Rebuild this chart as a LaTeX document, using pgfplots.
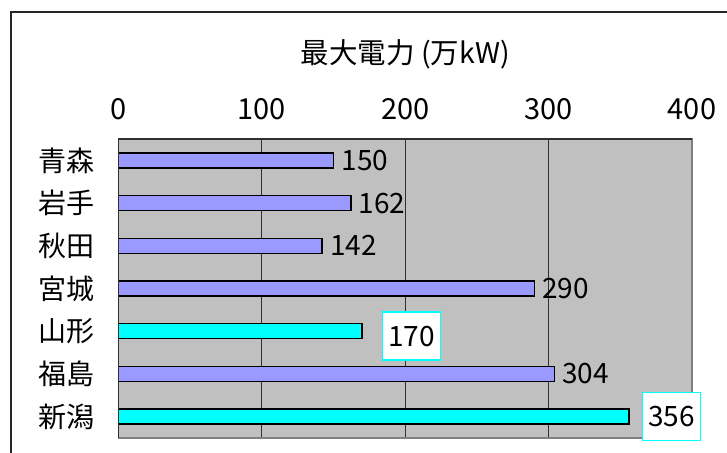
\documentclass[border=0pt]{standalone}
\usepackage{pgfplots}
\pgfplotsset{compat=1.18}
\usepackage{fontspec}
\setmainfont{Noto Sans CJK JP}
\definecolor{peri}{HTML}{9999FF}
\definecolor{cyanbar}{HTML}{00FFFF}
\definecolor{bg}{HTML}{C0C0C0}
\definecolor{gridc}{HTML}{303030}
\definecolor{framec}{HTML}{808080}
\begin{document}
\begin{tikzpicture}[x=1pt,y=1pt]
\useasboundingbox (0,0) rectangle (727,452);
\clip (0,0) rectangle (727,452);
\draw[line width=2pt, black!85] (11,-5) -- (11,440) -- (740,440);
\begin{axis}[
  at={(118.5pt,14pt)}, anchor=south west,
  scale only axis, width=573.5pt, height=299pt,
  xmin=0, xmax=400, ymin=-0.5, ymax=6.5, y dir=reverse,
  xtick={0,100,200,300,400}, xticklabel pos=upper,
  ytick={0,...,6}, yticklabels={青森,岩手,秋田,宮城,山形,福島,新潟},
  major tick length=0pt,
  xmajorgrids, grid style={gridc, line width=0.8pt},
  axis background/.style={fill=bg},
  axis line style={framec, line width=1.2pt},
  xticklabel style={font=\fontsize{29}{32}\selectfont, yshift=16pt},
  yticklabel style={font=\fontsize{28}{32}\selectfont, xshift=-20pt},
  /pgf/number format/assume math mode=true,
  xbar, bar width=15pt,
  nodes near coords,
  every node near coord/.append style={anchor=west, font=\fontsize{28}{32}\selectfont, black},
]
\addplot[bar shift=0pt, fill=peri, draw=black, line width=1.5pt,
  every node near coord/.append style={xshift=4pt}] coordinates {
(150,0) (162,1) (142,2) (290,3) (304,5)};
\addplot[bar shift=0pt, fill=cyanbar, draw=black, line width=1.5pt,
  every node near coord/.append style={draw=cyanbar, fill=white, line width=1.5pt, minimum width=58pt, minimum height=48pt, xshift=19.5pt, yshift=-5pt}] coordinates {
(170,4)};
\addplot[bar shift=0pt, fill=cyanbar, draw=black, line width=1.5pt,
  every node near coord/.append style={draw=cyanbar, fill=white, line width=1.5pt, minimum width=58pt, minimum height=48pt, xshift=13pt}] coordinates {
(356,6)};
\end{axis}
\draw[gridc, line width=1.2pt] (current axis.south west) -- (current axis.north west) -- (current axis.north east);
\node[font=\fontsize{28.5}{32}\selectfont] at ([yshift=85pt]current axis.north) {最大電力 (万kW)};
\end{tikzpicture}
\end{document}
